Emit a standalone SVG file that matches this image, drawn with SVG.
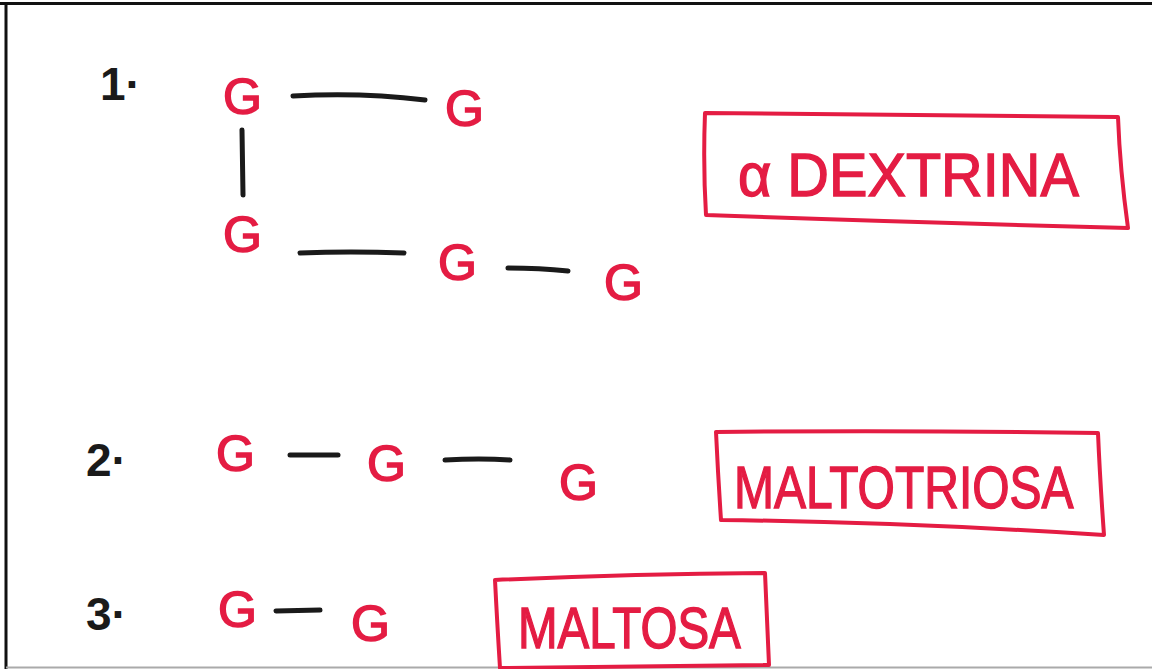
<svg xmlns="http://www.w3.org/2000/svg" width="1152" height="669" viewBox="0 0 1152 669">
  <style>
    .g { font-family: "Liberation Sans", Arial, sans-serif; font-size: 50px; fill: #e41c43; stroke: #e41c43; stroke-width: 1.5; }
    .num { font-family: "Liberation Sans", Arial, sans-serif; font-size: 46px; font-weight: bold; fill: #1a1a1a; }
    .label { font-family: "Liberation Sans", Arial, sans-serif; fill: #e41c43; stroke: #e41c43; stroke-width: 1.4; }
    .box { fill: none; stroke: #e41c43; stroke-width: 4; stroke-linejoin: round; }
    .bond { fill: none; stroke: #1a1a1a; stroke-width: 5; stroke-linecap: round; }
  </style>
  <rect width="1152" height="669" fill="#ffffff"/>
  <!-- page frame -->
  <line x1="0" y1="3.5" x2="1152" y2="3.5" stroke="#111" stroke-width="3"/>
  <line x1="6" y1="3" x2="6" y2="669" stroke="#111" stroke-width="3"/>
  <line x1="6" y1="667.5" x2="1152" y2="667.5" stroke="#aaa" stroke-width="2"/>

  <!-- bonds -->
  <g id="connectors">
    <path class="bond" d="M293 96 Q360 92 425 100"/>
    <path class="bond" d="M242 130 L243 195"/>
    <path class="bond" d="M300 253 Q350 251 404 253"/>
    <path class="bond" d="M508 268 Q540 268 568 271"/>
    <path class="bond" d="M290 455 L338 455"/>
    <path class="bond" d="M445 460 Q480 458 510 460"/>
    <path class="bond" d="M276 611 L320 610"/>
  </g>

  <!-- 1: alpha dextrin -->
  <g id="n1-label"><text class="num" x="100" y="100">1·</text></g>
  <g id="n1-g1"><text class="g" x="223" y="114">G</text></g>
  <g id="n1-g2"><text class="g" x="445" y="126">G</text></g>
  <g id="n1-g3"><text class="g" x="223" y="252">G</text></g>
  <g id="n1-g4"><text class="g" x="438" y="280">G</text></g>
  <g id="n1-g5"><text class="g" x="604" y="300">G</text></g>
  <g id="n1-name">
    <path class="box" d="M705 113 Q900 115 1118 117 Q1120 170 1128 228 Q900 222 706 215 Q703 165 705 113 Z"/>
    <text class="label" font-size="62" transform="translate(738 196) scale(0.93 1)">α DEXTRINA</text>
  </g>

  <!-- 2: maltotriose -->
  <g id="n2-label"><text class="num" x="86" y="476">2·</text></g>
  <g id="n2-g1"><text class="g" x="216" y="471">G</text></g>
  <g id="n2-g2"><text class="g" x="367" y="481">G</text></g>
  <g id="n2-g3"><text class="g" x="559" y="500">G</text></g>
  <g id="n2-name">
    <path class="box" d="M716 432 Q900 430 1098 433 Q1100 480 1104 535 Q900 522 721 520 Q718 475 716 432 Z"/>
    <text class="label" font-size="60" transform="translate(734 508) scale(0.8 1)">MALTOTRIOSA</text>
  </g>

  <!-- 3: maltose -->
  <g id="n3-label"><text class="num" x="86" y="630">3·</text></g>
  <g id="n3-g1"><text class="g" x="218" y="627">G</text></g>
  <g id="n3-g2"><text class="g" x="351" y="641">G</text></g>
  <g id="n3-name">
    <path class="box" d="M495 580 Q630 574 765 573 Q767 620 769 665 Q630 666 500 668 Q497 620 495 580 Z"/>
    <text class="label" font-size="58" transform="translate(518 648) scale(0.82 1)">MALTOSA</text>
  </g>
</svg>
